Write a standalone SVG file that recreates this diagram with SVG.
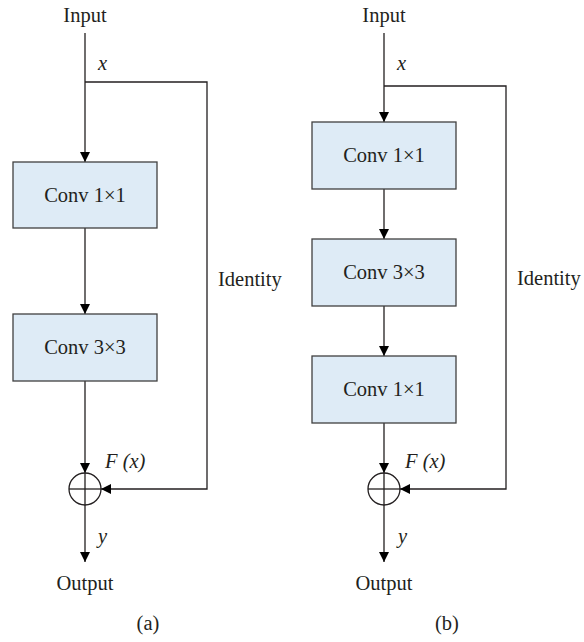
<svg xmlns="http://www.w3.org/2000/svg" width="584" height="642" viewBox="0 0 584 642">
<style>
.t{font-family:"Liberation Serif","Times New Roman",serif;font-size:20.5px;fill:#231f20}
.i{font-style:italic}
.box{fill:#deebf6;stroke:#404040;stroke-width:1.3}
.ln{fill:none;stroke:#231f20;stroke-width:1.3}
</style>
<defs>
<marker id="ah" viewBox="0 0 10 10" refX="10" refY="5" markerWidth="11" markerHeight="10" markerUnits="userSpaceOnUse" orient="auto"><path d="M0,0 L10,5 L0,10 Z" fill="#000"/></marker>
</defs>
<g id="connectors">
<line class="ln" x1="85" y1="33" x2="85" y2="162" marker-end="url(#ah)"/>
<polyline class="ln" points="85,82 207,82 207,489 101,489" marker-end="url(#ah)"/>
<line class="ln" x1="85" y1="228" x2="85" y2="314" marker-end="url(#ah)"/>
<line class="ln" x1="85" y1="381" x2="85" y2="473" marker-end="url(#ah)"/>
<line class="ln" x1="85" y1="505" x2="85" y2="562" marker-end="url(#ah)"/>
<line class="ln" x1="384" y1="33" x2="384" y2="122" marker-end="url(#ah)"/>
<polyline class="ln" points="384,86 506,86 506,489 400,489" marker-end="url(#ah)"/>
<line class="ln" x1="384" y1="189" x2="384" y2="239" marker-end="url(#ah)"/>
<line class="ln" x1="384" y1="306" x2="384" y2="356" marker-end="url(#ah)"/>
<line class="ln" x1="384" y1="423" x2="384" y2="473" marker-end="url(#ah)"/>
<line class="ln" x1="384" y1="505" x2="384" y2="562" marker-end="url(#ah)"/>
</g>
<g id="a-input"><text class="t" x="85" y="22" text-anchor="middle">Input</text></g>
<g id="a-x"><text class="t i" x="98" y="70">x</text></g>
<g id="a-conv1"><rect class="box" x="13" y="162" width="144" height="66"/><text class="t" x="85" y="202" text-anchor="middle">Conv 1×1</text></g>
<g id="a-conv2"><rect class="box" x="13" y="314" width="144" height="67"/><text class="t" x="85" y="354" text-anchor="middle">Conv 3×3</text></g>
<g id="a-identity"><text class="t" x="218" y="286">Identity</text></g>
<g id="a-sum"><circle cx="85" cy="489" r="16" fill="none" stroke="#231f20" stroke-width="1.3"/><line class="ln" x1="69" y1="489" x2="101" y2="489"/><line class="ln" x1="85" y1="473" x2="85" y2="505"/></g>
<g id="a-fx"><text class="t i" x="105" y="468">F (x)</text></g>
<g id="a-y"><text class="t i" x="98" y="543">y</text></g>
<g id="a-output"><text class="t" x="85" y="590" text-anchor="middle">Output</text></g>
<g id="a-label"><text class="t" x="148" y="630" text-anchor="middle">(a)</text></g>
<g id="b-input"><text class="t" x="384" y="22" text-anchor="middle">Input</text></g>
<g id="b-x"><text class="t i" x="397" y="70">x</text></g>
<g id="b-conv1"><rect class="box" x="312" y="122" width="144" height="67"/><text class="t" x="384" y="162" text-anchor="middle">Conv 1×1</text></g>
<g id="b-conv2"><rect class="box" x="312" y="239" width="144" height="67"/><text class="t" x="384" y="279" text-anchor="middle">Conv 3×3</text></g>
<g id="b-conv3"><rect class="box" x="312" y="356" width="144" height="67"/><text class="t" x="384" y="396" text-anchor="middle">Conv 1×1</text></g>
<g id="b-identity"><text class="t" x="517" y="285">Identity</text></g>
<g id="b-sum"><circle cx="384" cy="489" r="16" fill="none" stroke="#231f20" stroke-width="1.3"/><line class="ln" x1="368" y1="489" x2="400" y2="489"/><line class="ln" x1="384" y1="473" x2="384" y2="505"/></g>
<g id="b-fx"><text class="t i" x="405" y="468">F (x)</text></g>
<g id="b-y"><text class="t i" x="398" y="543">y</text></g>
<g id="b-output"><text class="t" x="384" y="590" text-anchor="middle">Output</text></g>
<g id="b-label"><text class="t" x="447" y="630" text-anchor="middle">(b)</text></g>
</svg>
